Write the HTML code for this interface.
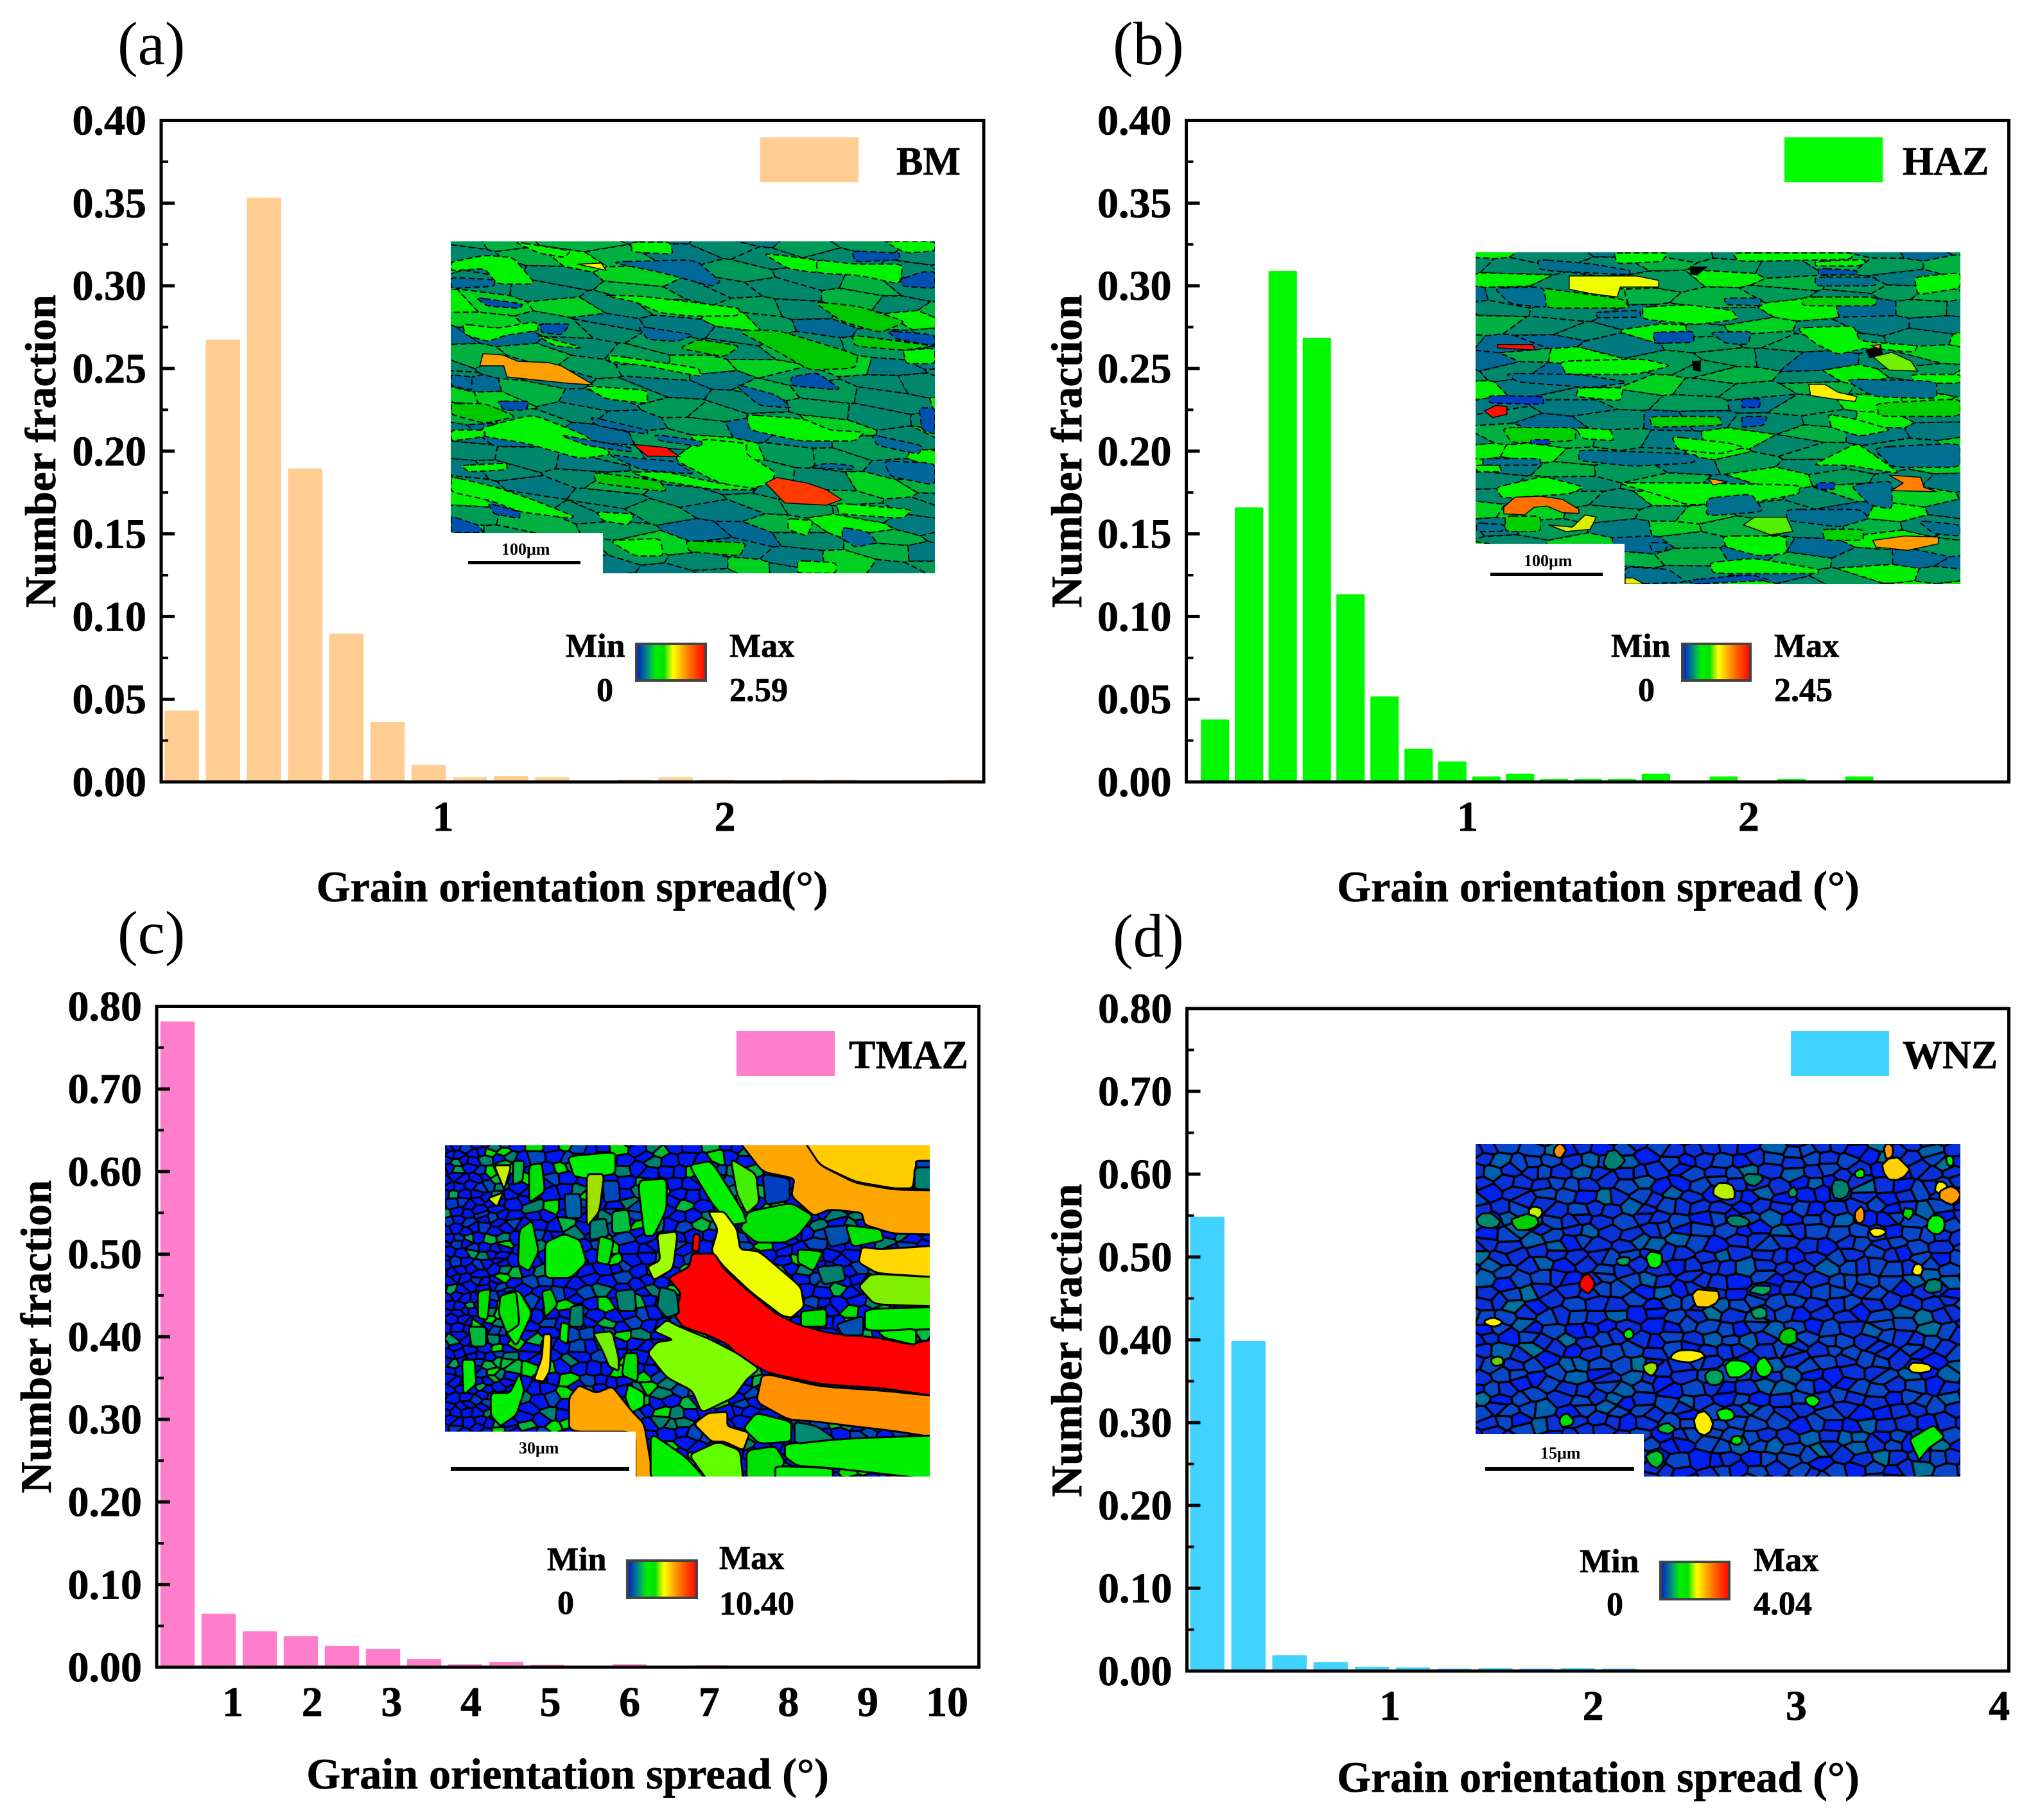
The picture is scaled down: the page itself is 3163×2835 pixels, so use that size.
<!DOCTYPE html>
<html lang="en">
<head>
<meta charset="utf-8">
<title>Grain orientation spread histograms</title>
<style>
html,body{margin:0;padding:0;background:#fff}
svg#fig{display:block}
text{font-family:"Liberation Serif",serif;font-weight:bold;fill:#000;stroke:#000;stroke-width:.7px}
.t{font-size:68px}.l{font-size:62px}.c{font-size:52px}.s{font-size:26px;stroke-width:0}
.p{font-size:95px;font-weight:normal;stroke-width:0}
</style>
</head>
<body>
<svg id="fig" xmlns="http://www.w3.org/2000/svg" width="3163" height="2835" viewBox="0 0 3163 2835">
<defs>
<linearGradient id="cb" x1="0" x2="1" y1="0" y2="0">
<stop offset="0" stop-color="#0818c8"/><stop offset=".1" stop-color="#0060a0"/><stop offset=".2" stop-color="#00b060"/><stop offset=".28" stop-color="#00f000"/><stop offset=".4" stop-color="#00e000"/><stop offset=".46" stop-color="#80f000"/><stop offset=".53" stop-color="#ffff00"/><stop offset=".66" stop-color="#ffb000"/><stop offset=".8" stop-color="#ff6000"/><stop offset="1" stop-color="#ff0000"/>
</linearGradient>
</defs>
<rect width="3163" height="2835" fill="#fff"/>

<g id="plot-a"></g>
<g id="plot-b"></g>
<g id="plot-c"></g>
<g id="plot-d"></g>

<text class="p" x="183" y="100">(a)</text>
<text class="p" x="1733" y="100">(b)</text>
<text class="p" x="183" y="1485">(c)</text>
<text class="p" x="1733" y="1490">(d)</text>

<text class="t" x="891" y="1404" text-anchor="middle">Grain orientation spread(°)</text>
<text class="t" x="2489" y="1404" text-anchor="middle">Grain orientation spread (°)</text>
<text class="t" x="884" y="2786" text-anchor="middle">Grain orientation spread (°)</text>
<text class="t" x="2489" y="2791" text-anchor="middle">Grain orientation spread (°)</text>

<text class="t" transform="translate(86 703) rotate(-90)" text-anchor="middle">Number fraction</text>
<text class="t" transform="translate(1684 703) rotate(-90)" text-anchor="middle">Number fraction</text>
<text class="t" transform="translate(79 2082) rotate(-90)" text-anchor="middle">Number fraction</text>
<text class="t" transform="translate(1684 2088) rotate(-90)" text-anchor="middle">Number fraction</text>

<rect x="1184" y="214" width="153" height="70" fill="#FFCC91"/>
<text class="l" x="1396" y="272">BM</text>
<rect x="2779" y="214" width="153" height="70" fill="#00FF00"/>
<text class="l" x="2963" y="272">HAZ</text>
<rect x="1147" y="1606" width="153" height="70" fill="#FF7ECB"/>
<text class="l" x="1322" y="1664">TMAZ</text>
<rect x="2789" y="1606" width="153" height="70" fill="#41D2FF"/>
<text class="l" x="2963" y="1664">WNZ</text>

<svg id="m-a" x="702" y="376" width="754" height="517" viewBox="24 47 1516 1501" preserveAspectRatio="none"><rect x="0" y="0" width="1600" height="1600" fill="#00876c"/></svg>
<svg id="m-b" x="2298" y="393" width="755" height="517" viewBox="37 38 1517 1500" preserveAspectRatio="none"><rect x="0" y="0" width="1600" height="1600" fill="#00876c"/></svg>
<svg id="m-c" x="693" y="1784" width="755" height="516" viewBox="27 40 1516 1498" preserveAspectRatio="none"><rect x="0" y="0" width="1600" height="1600" fill="#0020d0"/></svg>
<svg id="m-d" x="2298" y="1782" width="755" height="518" viewBox="37 36 1517 1502" preserveAspectRatio="none"><rect x="0" y="0" width="1600" height="1600" fill="#000"/></svg>

<rect x="702" y="830" width="237" height="64" fill="#fff"/>
<rect x="729" y="874" width="175" height="5"/>
<text class="s" x="781" y="864">100μm</text>
<rect x="2298" y="847" width="232" height="64" fill="#fff"/>
<rect x="2321" y="892" width="175" height="5"/>
<text class="s" x="2373" y="882">100μm</text>
<rect x="693" y="2230" width="297" height="71" fill="#fff"/>
<rect x="702" y="2285" width="278" height="6"/>
<text class="s" x="808" y="2264">30μm</text>
<rect x="2298" y="2234" width="262" height="67" fill="#fff"/>
<rect x="2313" y="2285" width="232" height="6"/>
<text class="s" x="2399" y="2272">15μm</text>

<rect x="991" y="1003" width="108" height="57" fill="url(#cb)" stroke="#444" stroke-width="4"/>
<text class="c" x="881" y="1023">Min</text>
<text class="c" x="929" y="1092">0</text>
<text class="c" x="1136" y="1023">Max</text>
<text class="c" x="1136" y="1092">2.59</text>

<rect x="2620" y="1003" width="106" height="57" fill="url(#cb)" stroke="#444" stroke-width="4"/>
<text class="c" x="2509" y="1023">Min</text>
<text class="c" x="2551" y="1092">0</text>
<text class="c" x="2763" y="1023">Max</text>
<text class="c" x="2763" y="1092">2.45</text>

<rect x="977" y="2431" width="108" height="58" fill="url(#cb)" stroke="#444" stroke-width="4"/>
<text class="c" x="852" y="2446">Min</text>
<text class="c" x="868" y="2514">0</text>
<text class="c" x="1120" y="2444">Max</text>
<text class="c" x="1120" y="2515">10.40</text>

<rect x="2586" y="2433" width="107" height="58" fill="url(#cb)" stroke="#444" stroke-width="4"/>
<text class="c" x="2460" y="2449">Min</text>
<text class="c" x="2502" y="2516">0</text>
<text class="c" x="2731" y="2447">Max</text>
<text class="c" x="2731" y="2515">4.04</text>
</svg>

<script>
/* ---------- chart data ---------- */
const aBinCenters=[0.073,0.219,0.365,0.511,0.657,0.803,0.949,1.095,1.241,1.387,1.533,1.679,1.825,1.971,2.117,2.263,2.409,2.555,2.701,2.847];
const aValues=[0.0432,0.2675,0.3533,0.1895,0.0896,0.0362,0.0102,0.0028,0.0035,0.0028,0,0.0013,0.0028,0.0013,0,0.0013,0.0013,0,0,0.0013];
const aYTickLabels=['0.00','0.05','0.10','0.15','0.20','0.25','0.30','0.35','0.40'];
const aXTickLabels=['1','2'];

const bBinCenters=[0.102,0.223,0.343,0.464,0.584,0.705,0.826,0.946,1.067,1.187,1.308,1.429,1.549,1.670,1.790,1.911,2.032,2.152,2.273,2.393];
const bValues=[0.0378,0.166,0.309,0.2685,0.1135,0.0517,0.0200,0.0123,0.0033,0.0050,0.0018,0.0018,0.0018,0.0050,0,0.0033,0,0.0018,0,0.0033];
const bYTickLabels=['0.00','0.05','0.10','0.15','0.20','0.25','0.30','0.35','0.40'];
const bXTickLabels=['1','2'];

const cBinCenters=[0.303,0.821,1.339,1.856,2.374,2.892,3.410,3.928,4.445,4.963,5.481,5.999,6.517,7.034,7.552,8.070,8.588,9.106,9.623,10.141];
const cValues=[0.7815,0.0647,0.0434,0.0377,0.0256,0.0220,0.0100,0.0036,0.0062,0.0030,0,0.0036,0,0.0022,0,0,0,0,0,0];
const cYTickLabels=['0.00','0.10','0.20','0.30','0.40','0.50','0.60','0.70','0.80'];
const cXTickLabels=['1','2','3','4','5','6','7','8','9','10'];

const dBinCenters=[0.100,0.303,0.505,0.708,0.911,1.113,1.316,1.519,1.722,1.924,2.127,2.330,2.532,2.735,2.938,3.140,3.343,3.546,3.749,3.951];
const dValues=[0.5485,0.3986,0.0192,0.0108,0.0049,0.0044,0.0029,0.0036,0.0029,0.0036,0.0029,0,0.0016,0,0,0,0,0,0,0];
const dYTickLabels=['0.00','0.10','0.20','0.30','0.40','0.50','0.60','0.70','0.80'];
const dXTickLabels=['1','2','3','4'];

const panels=[
 {id:'a',bins:aBinCenters,vals:aValues,yl:aYTickLabels,xl:aXTickLabels,xMin:0,xMax:2.918,yMax:0.4,binW:0.146,fill:'#FFCC91',L:251,R:1532,T:187.5,B:1218},
 {id:'b',bins:bBinCenters,vals:bValues,yl:bYTickLabels,xl:bXTickLabels,xMin:0,xMax:2.925,yMax:0.4,binW:0.1206,fill:'#00F800',L:1847.5,R:3128.5,T:187.5,B:1218},
 {id:'c',bins:cBinCenters,vals:cValues,yl:cYTickLabels,xl:cXTickLabels,xMin:0.04,xMax:10.4,yMax:0.8,binW:0.5178,fill:'#FF7ECB',L:244,R:1524.5,T:1567.5,B:2597},
 {id:'d',bins:dBinCenters,vals:dValues,yl:dYTickLabels,xl:dXTickLabels,xMin:0,xMax:4.047,yMax:0.8,binW:0.2027,fill:'#41D2FF',L:1848.5,R:3128.5,T:1571,B:2603}
];

const NS='http://www.w3.org/2000/svg';
function mk(tag,attrs,parent){const e=document.createElementNS(NS,tag);for(const k in attrs)e.setAttribute(k,attrs[k]);parent.appendChild(e);return e;}

panels.forEach(function(p){
 const g=document.getElementById('plot-'+p.id);
 const xS=function(v){return p.L+(v-p.xMin)/(p.xMax-p.xMin)*(p.R-p.L);};
 const yS=function(v){return p.B-v/p.yMax*(p.B-p.T);};
 const bw=(xS(p.binW)-xS(0))*0.835;
 p.vals.forEach(function(v,i){
  if(v<=0)return;
  const el=mk('rect',{x:xS(p.bins[i])-bw/2,y:yS(v),width:bw,height:p.B-yS(v),fill:p.fill,rx:1.5},g);
  
  
 });
 p.yl.forEach(function(lab,i){
  const v=parseFloat(lab),y=yS(v);
  const t=mk('line',{x1:p.L,x2:p.L+21,y1:y,y2:y,stroke:'#000','stroke-width':5},g);
  
  
  if(i<p.yl.length-1){
   const ym=yS((v+parseFloat(p.yl[i+1]))/2);
   const m=mk('line',{x1:p.L,x2:p.L+11,y1:ym,y2:ym,stroke:'#000','stroke-width':4},g);
   
   
  }
  const tx=mk('text',{x:p.L-23,y:y+22,'text-anchor':'end','font-size':66},g);
  tx.textContent=lab;
  
  
 });
 p.xl.forEach(function(lab){
  const tx=mk('text',{x:xS(parseFloat(lab)),y:p.B+76,'text-anchor':'middle','font-size':66},g);
  tx.textContent=lab;
  
  
 });
 const fr=mk('rect',{x:p.L,y:p.T,width:p.R-p.L,height:p.B-p.T,fill:'none',stroke:'#000','stroke-width':5},g);
 
 
});

/* ---------- decorative micrograph texture (images, not chart data) ---------- */
function gen(s){return function(){s=(s*16807)%2147483647;return s/2147483647;};}
function grid(sx,sy,x0,x1,y0,y1,r){const o=[];let row=0;for(let y=y0;y<y1;y+=sy){for(let x=x0+(row%2)*sx/2;x<x1;x+=sx)o.push([x+(r()-.5)*sx*.8,y+(r()-.5)*sy*.8]);row++;}return o;}
function cell(i,S,b,R){let P=[[b[0],b[1]],[b[2],b[1]],[b[2],b[3]],[b[0],b[3]]];const a=S[i];
 for(let j=0;j<S.length;j++){if(j===i)continue;const c=S[j],nx=c[0]-a[0],ny=c[1]-a[1];if(Math.abs(nx)>R||Math.abs(ny)>R)continue;
  const mx=(a[0]+c[0])/2,my=(a[1]+c[1])/2,Q=[];
  for(let k=0;k<P.length;k++){const u=P[k],w=P[(k+1)%P.length],du=(u[0]-mx)*nx+(u[1]-my)*ny,dw=(w[0]-mx)*nx+(w[1]-my)*ny;
   if(du<=0)Q.push(u);
   if((du<0&&dw>0)||(du>0&&dw<0)){const t=du/(du-dw);Q.push([u[0]+t*(w[0]-u[0]),u[1]+t*(w[1]-u[1])]);}}
  P=Q;if(!P.length)break;}
 return P;}
function smooth(P){const n=P.length,m=function(a,b,t){return (a[0]+(b[0]-a[0])*t).toFixed(1)+' '+(a[1]+(b[1]-a[1])*t).toFixed(1);};
 let d='M'+m(P[0],P[1],.2);for(let i=0;i<n;i++){const a=P[i],b=P[(i+1)%n],c=P[(i+2)%n];d+='L'+m(a,b,.8)+'Q'+b[0].toFixed(1)+' '+b[1].toFixed(1)+' '+m(b,c,.2);}return d+'Z';}
function parsePts(s){return s.split(' ').map(function(q){return q.split(',').map(Number);});}
function poly(g,pts,fill,sw,dash){const el=mk('polygon',{points:pts,fill:fill,stroke:'#000','stroke-width':sw,'vector-effect':'non-scaling-stroke'},g);
 if(dash)el.setAttribute('stroke-dasharray',dash);
 
 
 return el;}
function blob(g,P,fill,sw,dash){const el=mk('path',{d:smooth(P),fill:fill,stroke:'#000','stroke-width':sw,'vector-effect':'non-scaling-stroke'},g);
 if(dash)el.setAttribute('stroke-dasharray',dash);
 
 
 return el;}
function pick(r,pal){let v=r();for(const e of pal){if(v<e[1])return e[0];v-=e[1];}return pal[0][0];}
function streaks(id,seed,sx,sy,k,tan,box,pal,patches,hi){
 const g=document.getElementById(id),r=gen(seed);
 const b=[box[0]-300,(box[1]-tan*box[2]-150)*k,box[2]+300,(box[3]-tan*box[0]+150)*k];
 const S=grid(sx,sy*k,b[0],b[2],b[1],b[3],r);
 S.forEach(function(_,i){const P=cell(i,S,b,sx*3);if(P.length<3)return;
  poly(g,P.map(function(q){return q[0].toFixed(1)+','+(q[1]/k+q[0]*tan).toFixed(1);}).join(' '),pick(r,pal),2,'9 5');});
 for(const c in patches)patches[c].forEach(function(p){blob(g,parsePts(p),c,2,'9 5');});
 hi.forEach(function(h){poly(g,h[1],h[0],1.5);});
}
const palA=[['#00876c',.30],['#009a58',.26],['#00b040',.14],['#007a80',.12],['#006a94',.06],['#00d020',.07],['#00f000',.05]];
const palB=[['#00876c',.27],['#009a58',.25],['#00b040',.14],['#007a80',.12],['#006a94',.05],['#00d020',.07],['#00f000',.10]];

streaks('m-a',1234,190,75,2.5,0.178,[24,47,1540,1548],palA,{
'#00f400':['220,47 400,90 380,120 300,100','590,50 710,50 720,105 590,95','25,140 130,110 220,120 290,240 170,240 130,170 25,180','1380,47 1540,47 1540,90 1450,100','1170,130 1290,150 1440,150 1430,240 1300,200 1170,190','500,290 620,295 770,320 930,350 920,385 770,385 680,370 600,320','60,420 170,440 290,410 300,450 200,470 140,500 70,470','290,470 420,520 430,530 350,520','520,560 800,620 810,660 640,610 520,590','440,700 640,720 640,780 510,760','950,830 1130,850 1210,900 1320,910 1290,950 1120,950 960,900','810,940 950,960 950,1010 1040,1090 1030,1140 950,1170 850,1130 720,1030','120,890 280,830 440,920 530,1010 430,1030 260,960 130,930','25,900 130,900 130,930 25,950','25,1110 170,1160 290,1220 410,1290 400,1300 240,1270 150,1220 25,1180','55,1060 200,1050 200,1080 80,1090','580,1090 700,1090 860,1140 1000,1170 850,1170 680,1130','1230,1230 1470,1260 1440,1300 1240,1280','1080,1300 1160,1310 1140,1380 1080,1350','520,1400 680,1390 690,1470 600,1470','1110,1490 1230,1500 1230,1548 1110,1548','480,1270 600,1280 580,1330 500,1310','1000,100 1170,130 1170,190 1080,170','1440,540 1540,530 1540,600 1450,600'],
'#00c800':['920,450 1050,450 1300,560 1290,620 1150,630 1040,540','1160,320 1300,340 1450,410 1370,460 1250,410','800,490 930,520 880,570 740,530','470,1090 680,1130 700,1180 480,1140','25,780 130,780 230,840 130,870 25,830','760,1400 950,1410 930,1470 770,1450','1280,470 1540,520 1440,540 1290,520'],
'#00689a':['520,140 790,130 870,230 840,250 690,190','610,430 790,470 730,500 640,490','25,210 160,220 160,250 25,260','910,690 1040,740 1095,800 990,790','660,920 810,950 810,975 680,950','360,920 590,980 590,1000 450,970','460,840 640,900 640,920 480,880','515,1010 620,1030 720,1040 790,1100 620,1080','1340,920 1500,970 1490,1010 1360,970','1380,1040 1540,1050 1540,1150 1400,1110','25,650 90,660 90,720 25,700','1200,1050 1280,1060 1290,1080 1140,1070','1250,1340 1330,1360 1360,1410 1290,1430 1250,1390'],
'#0050b0':['1280,90 1430,100 1430,130 1290,140','1430,220 1500,185 1540,185 1540,260 1440,250','100,300 250,330 240,350 140,340','1090,660 1170,640 1250,720 1090,700','170,770 270,770 260,810 190,810','25,1290 110,1330 130,1365 25,1365','1390,450 1540,470 1540,520 1420,490','1490,800 1540,800 1540,920 1500,900','300,420 400,420 370,470 310,460','140,1230 240,1270 240,1300 160,1280']
},[
['#ffa000','125,555 185,560 235,590 330,595 370,610 470,695 400,690 200,660 190,610 115,610'],
['#ffee00','420,150 495,145 510,178 470,165'],
['#ff1000','595,965 700,980 740,1020 640,1018'],
['#ff3a00','1045,1115 1140,1140 1200,1170 1248,1215 1200,1240 1070,1230 1010,1140']]);

streaks('m-b',4321,190,70,2.7,0,[37,38,1554,1538],palB,{
'#00f400':['560,285 700,275 840,300 860,340 730,365 560,340','1040,380 1220,370 1240,440 1420,460 1410,490 1260,470 1170,500 1100,450','1100,80 1260,70 1240,100 1100,100','1410,150 1554,130 1554,200 1420,230','480,1080 700,1080 1050,1090 1050,1130 900,1170 700,1180 600,1130','810,1320 1010,1320 1010,1400 920,1410 820,1370','770,1440 910,1420 1110,1470 1110,1490 780,1490','650,870 830,900 880,920 800,950 670,930','350,830 460,840 470,890 370,880','100,1100 250,1050 380,1100 330,1130 120,1150','300,530 560,520 650,550 540,590 320,590','360,650 500,650 490,710 350,690','1230,900 1270,940 1370,1040 1200,1000 1090,1000','1140,770 1220,790 1340,840 1240,870 1150,830','40,1000 110,1000 120,1030 40,1030','470,40 640,40 620,80 480,90','1400,590 1554,590 1554,630 1410,630','840,40 1220,40 1210,70 860,80'],
'#00d000':['250,200 300,210 500,250 520,290 250,290','580,780 800,780 810,820 590,830','120,830 350,830 350,890 150,900','1290,720 1554,700 1554,780 1300,780','1060,240 1290,240 1290,280 1060,280','130,1230 240,1230 240,1300 130,1300','1120,1290 1250,1290 1250,1340 1130,1340'],
'#006f90':['95,200 250,195 260,290 145,270','130,585 360,590 520,625 400,650 170,625','410,310 550,300 555,330 420,335','770,400 900,395 890,455 820,450','1100,150 1290,150 1290,190 1100,190','815,245 930,245 930,280 820,275','1190,610 1480,620 1480,700 1280,690','360,930 730,950 720,990 530,1005 360,980','60,970 240,970 240,1000 60,1000','1280,920 1554,900 1554,1010 1340,1010','1010,1200 1240,1200 1270,1240 1180,1280 1010,1250','760,1150 900,1130 940,1210 760,1230','1210,1090 1340,1070 1340,1200 1270,1180','505,1460 640,1470 700,1530 505,1538','40,1260 130,1270 120,1300 40,1300','1420,1250 1554,1270 1554,1320 1470,1310','580,1350 640,1350 630,1390 590,1390','230,70 400,90 520,120 520,140 240,120'],
'#0050b0':['590,400 720,395 720,445 600,450','1110,110 1230,120 1230,140 1110,140','870,780 950,780 940,820 870,830','700,1520 900,1495 960,1520 720,1538'],
'#0040c8':['80,685 250,690 250,725 80,720','870,700 930,700 925,740 870,740','1105,1080 1160,1080 1160,1110 1105,1110','210,885 270,885 270,905 210,905']
},[
['#f0ff00','330,145 540,145 610,165 610,195 490,195 480,240 400,225 330,205'],
['#ff1000','105,455 215,455 225,480 105,470'],
['#ff1000','65,755 100,730 135,735 135,770 90,785'],
['#70f000','1280,510 1340,490 1400,530 1420,575 1330,570'],
['#000','1260,480 1305,460 1310,500 1270,515'],
['#ffa000','1275,460 1305,455 1300,475'],
['#ffee00','1080,635 1130,635 1170,670 1230,690 1225,712 1150,700 1085,685'],
['#ff7000','125,1190 160,1145 240,1140 310,1155 360,1200 360,1218 310,1215 260,1185 220,1190 190,1225 125,1220'],
['#d8f000','265,1270 340,1280 380,1225 415,1235 395,1290 320,1300'],
['#50f000','875,1270 910,1235 1010,1235 1030,1300 960,1315'],
['#ff8000','1330,1045 1430,1055 1440,1100 1480,1120 1340,1115 1375,1080'],
['#ff9c00','1280,1340 1380,1320 1485,1325 1485,1355 1390,1385 1290,1370'],
['#ffa000','765,1060 825,1075 780,1090'],
['#e0f000','505,1510 530,1510 565,1538 505,1538'],
['#000','710,105 760,105 730,140 710,135'],
['#000','715,530 740,530 740,575 720,570']]);

(function(){ /* TMAZ */
 const g=document.getElementById('m-c'),r=gen(777),b=[-20,0,1600,1600];
 const S=grid(32,38,-20,230,0,1600,r).concat(grid(46,50,230,1600,0,1600,r));
 S.forEach(function(a,i){const P=cell(i,S,b,170);if(P.length<3)return;let c;const v=r();
  if(a[0]<150)c=v<.78?'#0018f0':v<.94?'#0038d0':'#00a060';
  else c=v<.55?'#0018f0':v<.72?'#0048c0':v<.84?'#00806e':v<.93?'#00e000':'#00b840';
  poly(g,P.map(function(q){return q[0].toFixed(1)+','+q[1].toFixed(1);}).join(' '),c,3);});
 [
 ['#00f000','410,90 560,70 560,170 470,190 430,180'],['#00f000','630,200 720,190 720,330 680,450 650,450'],
 ['#00f000','340,480 400,440 450,470 470,570 420,640 340,640'],['#00f000','220,700 260,700 300,800 250,950 215,880'],
 ['#00e000','590,980 630,980 630,1110 580,1080'],['#00e000','110,820 160,870 150,940 110,950'],
 ['#00f000','80,1010 120,1010 125,1120 85,1170'],['#00f000','170,1160 230,1160 260,1070 275,1150 250,1260 200,1310 170,1260'],
 ['#00f000','600,1120 650,1160 650,1220 610,1250 590,1180'],['#00e000','260,420 300,380 320,520 290,610 255,580'],
 ['#00e000','130,700 170,690 160,830 130,820'],['#00e000','200,720 250,700 260,850 220,890 195,800'],
 ['#00d000','330,700 360,690 380,760 340,820'],['#00f000','390,840 415,850 410,940 385,920'],
 ['#00806e','420,770 460,760 460,860 415,860'],['#00806e','560,700 620,690 625,790 570,790'],
 ['#00806e','480,380 530,370 540,450 480,470'],['#00c040','550,340 600,330 610,430 550,440'],
 ['#0060b0','400,260 450,260 455,370 405,370'],['#00b840','100,860 155,860 155,950 110,950'],
 ['#00e000','290,130 330,120 340,250 290,300'],['#00e000','510,450 555,470 540,580 500,570'],
 ['#0048c0','520,200 570,200 575,290 525,300'],['#00b840','240,110 275,110 270,200 240,220'],
 ['#a0e000','470,170 525,170 510,340 470,410'],['#c8f000','180,130 235,130 210,250 190,320 160,280 215,250'],
 ['#ffe000','335,895 360,895 355,1060 335,1110 305,1100 330,1000'],['#a0ff00','690,440 755,430 740,600 680,650 660,590 700,560'],
 ['#70f000','490,890 550,880 570,1000 570,1060 540,1040 520,970'],
 ['#ffa500','945,20 1150,20 1200,130 1310,210 1430,240 1600,245 1600,445 1430,440 1340,400 1330,345 1230,330 1180,360 1110,270 1120,190 1020,160'],
 ['#ffcc00','1150,20 1600,20 1600,100 1500,120 1490,235 1430,235 1310,205 1200,130'],
 ['#0040c0','1500,110 1600,110 1600,140 1500,140'],['#008070','1495,140 1600,140 1600,240 1495,240'],
 ['#0040c0','1020,170 1105,190 1105,290 1030,310'],
 ['#00e000','975,340 1110,300 1180,360 1130,450 1090,480 1000,480 950,420'],
 ['#00f000','790,130 860,110 960,340 970,390 920,400 860,300'],['#40f000','920,100 1000,170 1010,300 970,350 940,260'],
 ['#f0ff00','850,340 900,340 940,420 950,510 1010,520 1140,680 1150,770 1110,820 1080,810 980,700 900,590 860,520 880,420'],
 ['#ff0000','800,530 870,530 900,600 960,680 1060,800 1130,850 1230,890 1380,910 1480,940 1543,920 1600,920 1600,1180 1543,1170 1400,1140 1200,1120 1040,1070 950,1000 910,940 850,900 770,860 745,810 765,710 725,640 790,590'],
 ['#ff0000','805,440 825,445 820,520 800,515'],
 ['#80ff00','760,860 860,920 940,980 1010,1050 970,1100 930,1180 830,1250 800,1150 720,1090 660,980 690,930 740,920 680,880 720,830'],
 ['#ff9000','1020,1070 1200,1130 1400,1150 1600,1180 1600,1370 1420,1330 1300,1310 1190,1290 1100,1280 1000,1200'],
 ['#ffa500','415,1180 445,1125 500,1160 550,1130 610,1240 650,1300 680,1560 622,1560 622,1335 415,1335'],
 ['#ffc800','805,1300 850,1250 910,1245 910,1310 980,1340 960,1420 900,1380 860,1380'],
 ['#00f000','1090,1390 1300,1365 1600,1350 1600,1560 1240,1500 1130,1490 1090,1450'],
 ['#00f000','1000,1250 1110,1290 1110,1380 1010,1390 960,1320'],['#00f000','670,1340 780,1450 850,1560 670,1560'],
 ['#60ff00','790,1440 880,1380 950,1420 960,1560 850,1560'],['#008a70','1120,1290 1190,1310 1250,1370 1120,1390'],
 ['#00e000','970,1420 1060,1400 1090,1470 1060,1560 970,1560'],['#00f000','1060,1490 1240,1500 1240,1560 1060,1560'],
 ['#ffd800','1330,500 1390,510 1600,490 1600,640 1380,620 1320,570'],['#80ee00','1320,680 1360,620 1600,640 1600,770 1370,760'],
 ['#00f000','1340,780 1600,770 1600,870 1340,880'],['#00f000','1380,880 1500,870 1500,945 1400,910'],
 ['#0050b0','1250,850 1335,810 1335,900 1270,900'],['#0050b0','1210,410 1300,400 1290,480 1230,500'],
 ['#00806e','700,680 750,700 760,800 720,820 690,770'],['#00e000','1140,790 1220,780 1220,860 1140,860'],
 ['#00e000','1130,510 1210,520 1180,610 1130,570'],['#00e000','1280,400 1390,420 1400,470 1300,500'],['#00806e','1190,590 1270,580 1280,650 1210,670']
 ].forEach(function(h){blob(g,parsePts(h[1]),h[0],3);});
})();

(function(){ /* WNZ */
 const g=document.getElementById('m-d'),r=gen(2024),b=[0,0,1600,1600];
 const S=grid(58,54,0,1600,0,1600,r);
 S.forEach(function(a,i){const P=cell(i,S,b,200);if(P.length<3)return;const c=pick(r,[['#0a30d8',.42],['#0848c8',.26],['#0060b0',.10],['#0020f0',.18],['#00709c',.04]]);
  poly(g,P.map(function(q){return q[0].toFixed(1)+','+q[1].toFixed(1);}).join(' '),c,3.4);});
 [['#ff9000',300,65,18,30],['#b8f000',815,250,35,42],['#c0f000',225,345,20,28],['#00d000',190,390,40,35],['#008a70',78,385,35,35],['#ff0000',385,665,22,40],['#00f000',597,558,25,35],['#ffd000',755,730,45,40],['#ffee00',90,840,28,20],['#ffee00',700,995,50,28],['#00ff00',855,1050,42,42],['#00f000',938,1050,25,45],['#00a060',785,1090,28,35],['#00c800',1015,905,30,35],['#ffee00',748,1300,28,50],['#00f000',820,1255,28,28],['#ffee00',1425,1045,38,22],['#ffd000',1350,150,40,50],['#ffee00',1495,235,20,30],['#ff9c00',1520,265,30,40],['#ff9c00',1240,355,15,35],['#00f000',1480,400,28,45],['#00e000',1390,350,16,25],['#ffee00',1295,435,25,22],['#ffee00',1420,605,16,25],['#00806e',905,195,28,28],['#00806e',1175,240,28,40],['#00806e',855,385,35,25],['#00a060',930,695,32,22],['#00a060',500,565,22,20],['#00a060',1030,255,14,22],['#00f000',1240,170,16,20],['#00f000',1522,112,12,24],['#ff9c00',1330,70,15,35],['#00f000',1090,1195,22,25],['#00c030',600,1460,28,35],['#00c030',635,1320,25,22],['#00f000',515,895,15,25],['#90e000',585,1050,22,30],['#60d000',105,1015,18,22],['#00e000',320,1285,22,30],['#00e000',855,1375,18,22],['#00a060',925,800,25,25],['#00806e',1470,680,28,30],['#00806e',470,110,30,40]
 ].forEach(function(h){const P=[];for(let i=0;i<9;i++){const t=i/9*6.283,f=.85+r()*.35;P.push([h[1]+Math.cos(t)*h[3]*f,h[2]+Math.sin(t)*h[4]*f]);}
  blob(g,P,h[0],3);});
 blob(g,parsePts('1395,1370 1470,1305 1505,1360 1455,1410 1425,1465 1410,1420'),'#00f000',3);
})();
</script>
</body>
</html>
